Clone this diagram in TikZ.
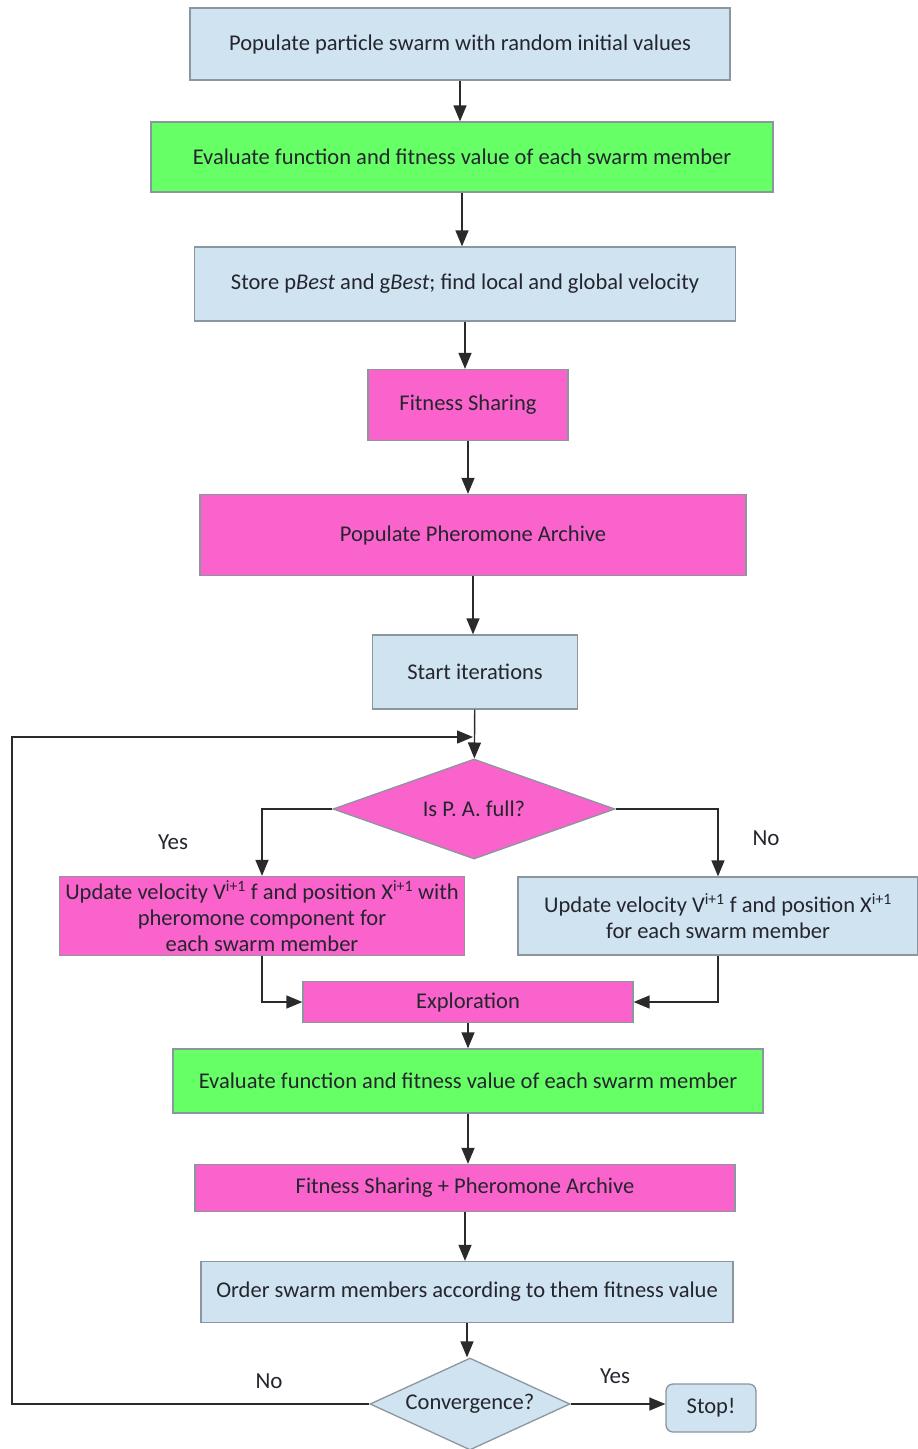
\documentclass[tikz,border=0pt]{standalone}
\usepackage{fontspec}
\setmainfont{Carlito}
\usetikzlibrary{shapes.geometric,arrows.meta}

\definecolor{boxblue}{HTML}{CFE3F1}
\definecolor{boxgreen}{HTML}{66FF66}
\definecolor{boxpink}{HTML}{FA62CC}
\definecolor{edgegray}{HTML}{8C969E}
\definecolor{txt}{HTML}{25252E}
\definecolor{wire}{HTML}{2A2A2A}

\tikzset{
  base/.style={draw=edgegray, line width=1.3pt, text=txt, inner sep=2pt,
    font=\fontsize{22.5}{26}\selectfont, align=center},
  bluebox/.style={base, rectangle, fill=boxblue},
  greenbox/.style={base, rectangle, fill=boxgreen},
  pinkbox/.style={base, rectangle, fill=boxpink},
  decision/.style={base, diamond, inner sep=0pt, aspect=2.6},
  flow/.style={draw=wire, line width=1.4pt,
    -{Triangle[length=16pt,width=13pt]}},
  wirelabel/.style={text=txt, font=\fontsize{23}{26}\selectfont}
}

\begin{document}
\begin{tikzpicture}[x=1pt,y=-1pt]
\useasboundingbox[fill=white] (0,0) rectangle (918,1449);

% main column
\node[bluebox, minimum width=540, minimum height=72] (init) at (460,44)
  {Populate particle swarm with random initial values};
\node[greenbox, minimum width=622, minimum height=70] (eval1) at (462,157)
  {Evaluate function and fitness value of each swarm member};
\node[bluebox, minimum width=541, minimum height=74] (store) at (465,284)
  {Store p\textit{Best} and g\textit{Best}; find local and global velocity};
\node[pinkbox, minimum width=200, minimum height=71] (share1) at (468,405)
  {Fitness Sharing};
\node[pinkbox, minimum width=546, minimum height=81] (archive) at (473,535)
  {Populate Pheromone Archive};
\node[bluebox, minimum width=205, minimum height=74] (start) at (475,672)
  {Start iterations};
\node[decision, fill=boxpink, minimum width=282, minimum height=100] (full) at (474,809)
  {Is P. A. full?};

% the two update branches
\node[pinkbox, minimum width=405, minimum height=79] (updpher) at (262,916)
  {Update velocity V\textsuperscript{i+1} f and position X\textsuperscript{i+1} with\\
   pheromone component for\\ each swarm member};
\node[bluebox, minimum width=400, minimum height=78] (upd) at (718,916)
  {Update velocity V\textsuperscript{i+1} f and position X\textsuperscript{i+1}\\
   for each swarm member};

\node[pinkbox, minimum width=330, minimum height=41] (explore) at (468,1002)
  {Exploration};
\node[greenbox, minimum width=590, minimum height=64] (eval2) at (468,1081)
  {Evaluate function and fitness value of each swarm member};
\node[pinkbox, minimum width=540, minimum height=47] (share2) at (465,1188)
  {Fitness Sharing + Pheromone Archive};
\node[bluebox, minimum width=532, minimum height=61] (order) at (467,1292)
  {Order swarm members according to them fitness value};
\node[decision, fill=boxblue, aspect=2.2, minimum width=200, minimum height=92] (conv) at (470,1404)
  {Convergence?};
\node[bluebox, rounded corners=7pt, minimum width=90, minimum height=48] (stop) at (711,1408)
  {Stop!};

% vertical connectors down the main column
\draw[flow] (init) -- (init |- eval1.north);
\draw[flow] (eval1) -- (eval1 |- store.north);
\draw[flow] (store) -- (store |- share1.north);
\draw[flow] (share1) -- (share1 |- archive.north);
\draw[flow] (archive) -- (archive |- start.north);
\draw[flow] (start) -- (full);

\draw[flow] (full.west) -| (updpher.north);
\draw[flow] (full.east) -| (upd.north);
\node[wirelabel] (yes1) at (173,842) {Yes};
\node[wirelabel] (no1) at (766,838) {No};

\draw[flow] (updpher.south) |- (explore.west);
\draw[flow] (upd.south) |- (explore.east);

\draw[flow] (explore) -- (explore |- eval2.north);
\draw[flow] (eval2) -- (eval2 |- share2.north);
\draw[flow] (share2) -- (share2 |- order.north);
\draw[flow] (order) -- (order |- conv.north);

\draw[flow] (conv.east) -- (stop.west |- conv.east);
\node[wirelabel] (yes2) at (615,1376) {Yes};

% loop back to the archive test
\coordinate (loopin) at (473,737);
\draw[flow] (conv.west) -- (12,1404) -- (12,737) -- (loopin);
\node[wirelabel] (no2) at (269,1381) {No};
\end{tikzpicture}
\end{document}
